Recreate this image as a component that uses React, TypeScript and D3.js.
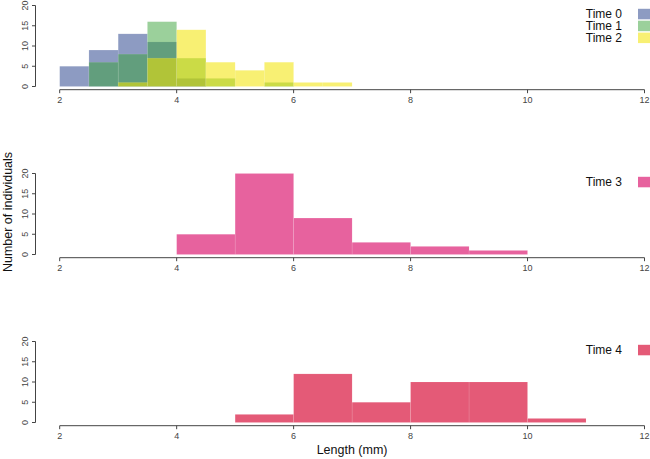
import React from "react";
import * as d3 from "d3";

// bin edges (mm)
const halfBreaks = [2, 2.5, 3, 3.5, 4, 4.5, 5, 5.5, 6, 6.5, 7];
const unitBreaks = [4, 5, 6, 7, 8, 9, 10, 11];

// counts per bin
const time0Counts = [5, 9, 13, 11, 2, 0, 0, 0, 0, 0];
const time1Counts = [0, 6, 8, 16, 7, 2, 0, 1, 0, 0];
const time2Counts = [0, 0, 1, 7, 14, 6, 4, 6, 1, 1];
const time3Counts = [5, 20, 9, 3, 2, 1, 0];
const time4Counts = [0, 2, 12, 5, 10, 10, 1];

const xTicks = [2, 4, 6, 8, 10, 12];
const yTicks = [0, 5, 10, 15, 20];

const panels = [
  {
    series: [
      { label: "Time 0", breaks: halfBreaks, counts: time0Counts, color: "#1b3785", alpha: 0.5 },
      { label: "Time 1", breaks: halfBreaks, counts: time1Counts, color: "#37a137", alpha: 0.5 },
      { label: "Time 2", breaks: halfBreaks, counts: time2Counts, color: "#f2e400", alpha: 0.55 },
    ],
  },
  { series: [{ label: "Time 3", breaks: unitBreaks, counts: time3Counts, color: "#e7629e", alpha: 1 }] },
  { series: [{ label: "Time 4", breaks: unitBreaks, counts: time4Counts, color: "#e45a77", alpha: 1 }] },
];

const W = 650;
const H = 459;
const panelStep = 168;
const font = "'Liberation Sans', Arial, Helvetica, sans-serif";
const axisColor = "#444";

export default function App() {
  const x = d3.scaleLinear().domain([2, 12]).range([59.7, 644.5]);

  return (
    <svg
      width={W}
      height={H}
      style={{ position: "absolute", left: 0, top: 0, background: "#fff" }}
      fontFamily={font}
    >
      {panels.map((p, pi) => {
        const off = pi * panelStep;
        const y = d3.scaleLinear().domain([0, 20]).range([86.5 + off, 5.5 + off]);
        const axisY = y(0) + 3.2;
        const axisX = 35.5;
        return (
          <g key={pi}>
            {p.series.map((s) =>
              s.counts.map((c, i) =>
                c > 0 ? (
                  <rect
                    key={s.label + i}
                    x={x(s.breaks[i])}
                    y={y(c)}
                    width={x(s.breaks[i + 1]) - x(s.breaks[i])}
                    height={y(0) - y(c)}
                    fill={s.color}
                    fillOpacity={s.alpha}
                    stroke="#fff"
                    strokeOpacity={0.2}
                    strokeWidth={0.5}
                  />
                ) : null
              )
            )}

            {/* x axis */}
            <line x1={x(2)} x2={x(12)} y1={axisY} y2={axisY} stroke={axisColor} strokeWidth={1} />
            {xTicks.map((t) => (
              <g key={t}>
                <line x1={x(t)} x2={x(t)} y1={axisY} y2={axisY + 3.5} stroke={axisColor} />
                <text x={x(t)} y={axisY + 13.5} fontSize={9} textAnchor="middle" fill={axisColor}>
                  {t}
                </text>
              </g>
            ))}

            {/* y axis */}
            <line x1={axisX} x2={axisX} y1={y(0)} y2={y(20)} stroke={axisColor} strokeWidth={1} />
            {yTicks.map((t) => (
              <g key={t}>
                <line x1={axisX - 3.5} x2={axisX} y1={y(t)} y2={y(t)} stroke={axisColor} />
                <text
                  transform={`translate(${27.5},${y(t)}) rotate(-90)`}
                  fontSize={9}
                  textAnchor="middle"
                  fill={axisColor}
                >
                  {t}
                </text>
              </g>
            ))}

            {/* legend */}
            {p.series.map((s, si) => {
              const cy = 14 + off + si * 11.9;
              return (
                <g key={s.label}>
                  <text x={622} y={cy + 4.3} fontSize={12} textAnchor="end" fill="#111">
                    {s.label}
                  </text>
                  <rect
                    x={638}
                    y={cy - 5.2}
                    width={14}
                    height={10.5}
                    fill={s.color}
                    fillOpacity={s.alpha}
                  />
                </g>
              );
            })}
          </g>
        );
      })}

      <text x={x(7)} y={454} fontSize={12.5} textAnchor="middle" fill="#111">
        Length (mm)
      </text>
      <text
        transform={`translate(${12},${212}) rotate(-90)`}
        fontSize={12.5}
        textAnchor="middle"
        fill="#111"
      >
        Number of individuals
      </text>
    </svg>
  );
}
